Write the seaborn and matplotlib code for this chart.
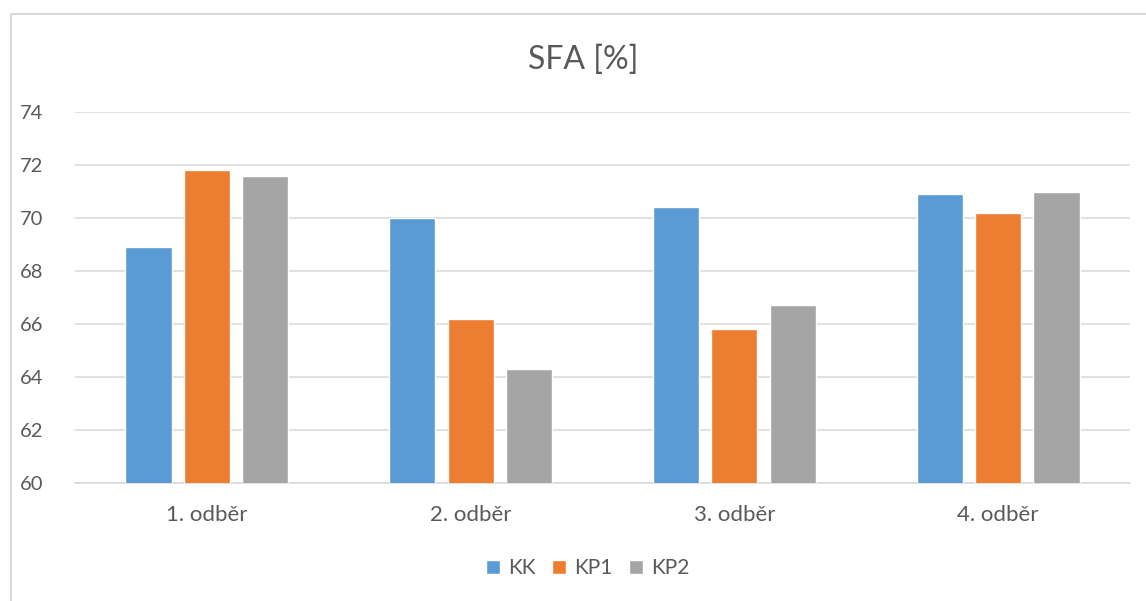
import numpy as np
import pandas as pd
import matplotlib.pyplot as plt
import seaborn as sns
from matplotlib.patches import Rectangle

# hodnoty
odbery = ['1. odběr', '2. odběr', '3. odběr', '4. odběr']
kk = [68.9, 70.0, 70.4, 70.9]
kp1 = [71.8, 66.2, 65.8, 70.2]
kp2 = [71.6, 64.3, 66.7, 71.0]
skupiny = ['KK', 'KP1', 'KP2']
barvy = ['#5B9BD5', '#ED7D31', '#A5A5A5']

df = pd.DataFrame({'odber': odbery * 3,
                   'skupina': np.repeat(skupiny, len(odbery)),
                   'hodnota': kk + kp1 + kp2})

sns.set_style('white')
plt.rcParams['font.family'] = ['Lato', 'DejaVu Sans']
sedy_text = '#595959'

fig = plt.figure(figsize=(11.46, 6.01), dpi=100)
ax = fig.add_axes([75 / 1146, 1 - 483 / 601, 1055 / 1146, 371 / 601])

sns.barplot(data=df, x='odber', y='hodnota', hue='skupina', palette=barvy,
            width=0.665, gap=0.21, saturation=1, ax=ax, zorder=3)

ax.set_ylim(60, 74)
ax.set_yticks(range(60, 75, 2))
ax.set_xlim(-0.5, 3.5)
ax.grid(axis='y', color='#d9d9d9', linewidth=1.1, zorder=0)
ax.set_axisbelow(True)
for s in ['left', 'right', 'top']:
    ax.spines[s].set_visible(False)
ax.spines['bottom'].set_color('#d9d9d9')
ax.spines['bottom'].set_linewidth(1.1)
ax.tick_params(axis='y', length=0, pad=23, labelsize=14.5, labelcolor=sedy_text)
ax.tick_params(axis='x', length=0, pad=16, labelsize=16, labelcolor=sedy_text)
ax.set_xlabel('')
ax.set_ylabel('')

fig.text(0.5 + 10 / 1146, 1 - 60 / 601, 'SFA [%]', ha='center', va='center',
         fontsize=23, color=sedy_text)

ax.legend(loc='center', bbox_to_anchor=(588 / 1146, 1 - 568 / 601),
          bbox_transform=fig.transFigure, ncol=3, frameon=False,
          fontsize=15, labelcolor=sedy_text, handlelength=0.65,
          handleheight=0.65, handletextpad=0.4, columnspacing=0.8)

# svetle sedy ramecek grafu
fig.patches.append(Rectangle((11 / 1146, -0.01), 1.02, 1 - 14 / 601 + 0.01,
                             transform=fig.transFigure, fill=False,
                             edgecolor='#d9d9d9', linewidth=1.5))

fig.savefig('out.png', dpi=100)
